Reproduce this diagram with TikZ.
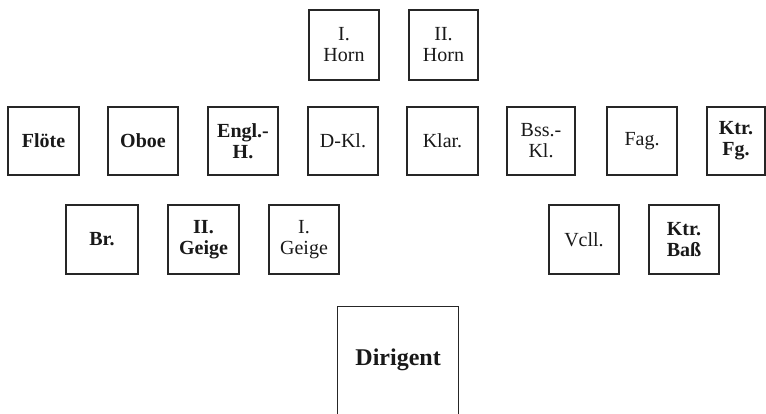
\documentclass[tikz,border=0pt]{standalone}
\usepackage{fontspec}
\setmainfont{Liberation Serif}
\begin{document}
\begin{tikzpicture}[x=1pt,y=-1pt,
  box/.style={draw=black!85, line width=1.3pt, align=center, inner sep=0pt,
    font=\fontsize{20}{21}\selectfont, text=black!90},
  bbox/.style={box, font=\fontsize{20}{21}\selectfont\bfseries}]
\clip (0,0) rectangle (766,414);
\fill[white] (0,0) rectangle (766,414);
% row 1: horns
\node[box, minimum width=70pt, minimum height=70pt] (horn1) at (344,45) {I.\\Horn};
\node[box, minimum width=69pt, minimum height=70pt] (horn2) at (443.5,45) {II.\\Horn};
% row 2: woodwinds
\node[bbox, minimum width=71pt, minimum height=68pt] (floete) at (43.5,141) {Flöte};
\node[bbox, minimum width=70pt, minimum height=68pt] (oboe) at (143,141) {Oboe};
\node[bbox, minimum width=70pt, minimum height=68pt] (englh) at (243,141) {Engl.-\\H.};
\node[box, minimum width=70pt, minimum height=68pt] (dkl) at (343,141) {D-Kl.};
\node[box, minimum width=71pt, minimum height=68pt] (klar) at (442.5,141) {Klar.};
\node[box, minimum width=68pt, minimum height=68pt] (bsskl) at (541,141) {Bss.-\\Kl.};
\node[box, minimum width=70pt, minimum height=68pt] (fag) at (642,141) {Fag.};
\node[bbox, minimum width=58pt, minimum height=68pt] (ktrfg) at (736,141) {Ktr.\\Fg.};
% row 3: strings
\node[bbox, minimum width=72pt, minimum height=69pt] (br) at (102,239.5) {Br.};
\node[bbox, minimum width=71pt, minimum height=69pt] (geige2) at (203.5,239.5) {II.\\Geige};
\node[box, minimum width=70pt, minimum height=69pt] (geige1) at (304,239.5) {I.\\Geige};
\node[box, minimum width=70pt, minimum height=69pt] (vcll) at (584,239.5) {Vcll.};
\node[bbox, minimum width=70pt, minimum height=69pt] (ktrbass) at (684,239.5) {Ktr.\\Baß};
% conductor
\node[box, font=\fontsize{24}{24}\selectfont\bfseries, minimum width=121pt, minimum height=116pt, anchor=north west] (dirigent) at (337,306) {\raisebox{14pt}{Dirigent}};
\end{tikzpicture}
\end{document}
